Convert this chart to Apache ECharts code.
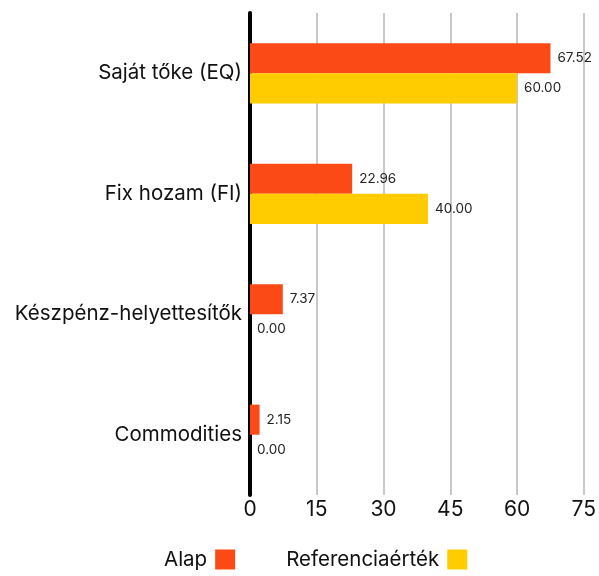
<!DOCTYPE html>
<html lang="hu">
<head>
    <meta charset="UTF-8">
    <title>Eszközallokáció</title>
    <script src="https://cdn.jsdelivr.net/npm/echarts@6/dist/echarts.min.js"></script>
    <style>
        body { margin: 0; background: #fff; }
        #chart { width: 599px; height: 576px; }
    </style>
</head>
<body>
<div id="chart"></div>
<script>
    var categories = ['Saját tőke (EQ)', 'Fix hozam (FI)', 'Készpénz-helyettesítők', 'Commodities'];
    var seriesNames = ['Alap', 'Referenciaérték'];
    var alapValues = [67.52, 22.96, 7.37, 2.15];
    var refValues = [60.00, 40.00, 0.00, 0.00];
    var xTicks = [0, 15, 30, 45, 60, 75];

    var fontName = 'Inter, "Noto Sans", sans-serif';
    var chart = echarts.init(document.getElementById('chart'));

    function barSeries(name, data, color) {
        return {
            name: name,
            type: 'bar',
            data: data,
            barGap: 0,
            barCategoryGap: '50%',
            itemStyle: { color: color },
            label: {
                show: true,
                position: 'right',
                distance: 7,
                fontFamily: fontName,
                fontSize: 13.5,
                color: '#222',
                formatter: function (p) { return p.value.toFixed(2); }
            }
        };
    }

    var option = {
        animation: false,
        textStyle: { fontFamily: fontName },
        grid: { left: 250, right: 12, top: 13, bottom: 81, containLabel: false },
        legend: {
            bottom: 1,
            left: 159,
            align: 'right',
            icon: 'rect',
            itemWidth: 20,
            itemHeight: 20,
            itemGap: 51,
            textStyle: { fontSize: 20.5, color: '#111', fontFamily: fontName, padding: [0, 3, 0, 0] },
            data: seriesNames
        },
        xAxis: {
            type: 'value',
            min: xTicks[0],
            max: xTicks[xTicks.length - 1],
            interval: 15,
            axisLine: { show: false },
            axisTick: { show: false },
            axisLabel: { fontSize: 21, color: '#111', margin: 4, fontFamily: fontName },
            splitLine: { show: true, lineStyle: { color: '#c8c8c8', width: 2 } }
        },
        yAxis: {
            type: 'category',
            inverse: true,
            data: categories,
            axisLine: { show: true, lineStyle: { color: '#000', width: 4 } },
            axisTick: { show: false },
            axisLabel: { fontSize: 20.5, color: '#111', margin: 8, fontFamily: fontName }
        },
        series: [
            barSeries(seriesNames[0], alapValues, '#FC4A17'),
            barSeries(seriesNames[1], refValues, '#FFCC00')
        ]
    };

    chart.setOption(option);
</script>
</body>
</html>
